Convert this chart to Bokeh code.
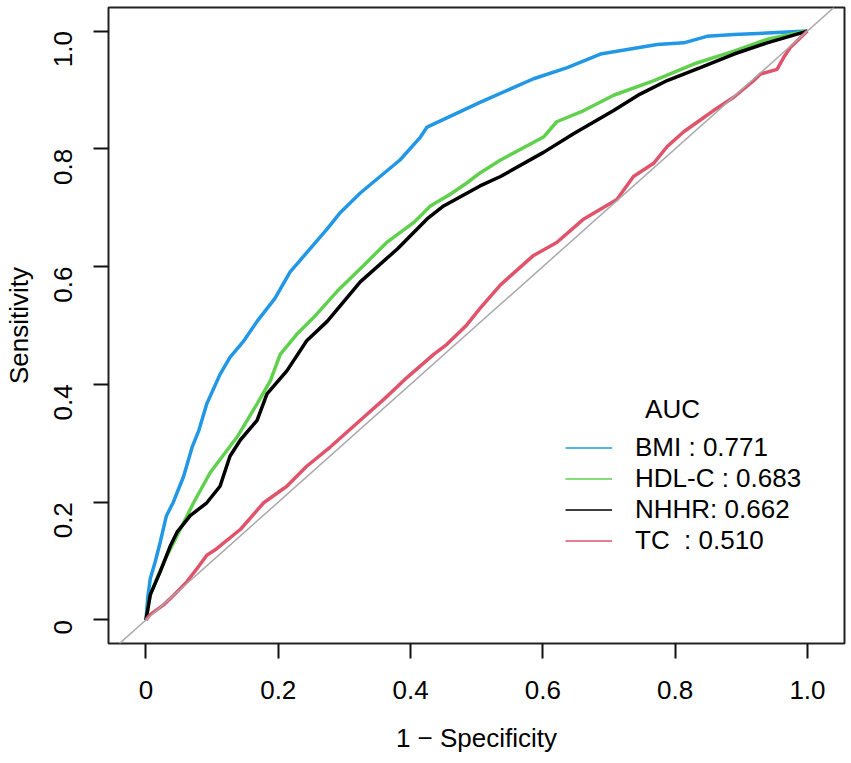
import math
from bokeh.plotting import figure
from bokeh.models import Legend, LegendItem, Label, Slope, Range1d, FixedTicker
from bokeh.embed import file_html
from bokeh.resources import INLINE

# ---- data ----
bmi_x = [0, 0.003, 0.0065, 0.0138, 0.0216, 0.031, 0.041, 0.057, 0.070, 0.080, 0.092, 0.112, 0.127,
         0.148, 0.168, 0.195, 0.218, 0.274, 0.294, 0.324, 0.384, 0.415, 0.425, 0.505, 0.511, 0.586,
         0.637, 0.687, 0.773, 0.813, 0.848, 0.889, 1.0]
bmi_y = [0, 0.040, 0.070, 0.098, 0.132, 0.177, 0.199, 0.244, 0.294, 0.322, 0.367, 0.417, 0.446,
         0.474, 0.507, 0.546, 0.591, 0.664, 0.692, 0.725, 0.781, 0.820, 0.837, 0.879, 0.882, 0.919,
         0.938, 0.961, 0.977, 0.980, 0.991, 0.994, 1.0]

hdl_x = [0, 0.0065, 0.0166, 0.032, 0.052, 0.072, 0.097, 0.138, 0.168, 0.188, 0.203, 0.228, 0.253,
         0.289, 0.329, 0.364, 0.405, 0.430, 0.460, 0.485, 0.505, 0.536, 0.601, 0.621, 0.662, 0.707,
         0.768, 0.828, 0.889, 0.939, 1.0]
hdl_y = [0, 0.0425, 0.0705, 0.110, 0.154, 0.199, 0.250, 0.311, 0.367, 0.406, 0.451, 0.485, 0.513,
         0.558, 0.602, 0.641, 0.675, 0.703, 0.723, 0.742, 0.759, 0.781, 0.820, 0.846, 0.865, 0.891,
         0.916, 0.944, 0.966, 0.986, 1.0]

nhhr_x = [0, 0.0065, 0.0216, 0.037, 0.047, 0.067, 0.092, 0.112, 0.127, 0.143, 0.168, 0.183, 0.213,
          0.243, 0.274, 0.324, 0.380, 0.425, 0.450, 0.505, 0.536, 0.601, 0.647, 0.707, 0.747, 0.788,
          0.838, 0.889, 0.939, 1.0]
nhhr_y = [0, 0.0425, 0.082, 0.126, 0.149, 0.177, 0.199, 0.227, 0.278, 0.306, 0.339, 0.384, 0.423,
          0.474, 0.507, 0.574, 0.630, 0.681, 0.703, 0.737, 0.753, 0.794, 0.826, 0.865, 0.893, 0.916,
          0.938, 0.961, 0.980, 1.0]

tc_x = [0, 0.0065, 0.027, 0.042, 0.062, 0.077, 0.092, 0.107, 0.143, 0.178, 0.213, 0.243, 0.279,
        0.330, 0.360, 0.395, 0.435, 0.455, 0.485, 0.505, 0.536, 0.586, 0.621, 0.662, 0.712, 0.737,
        0.768, 0.788, 0.813, 0.838, 0.858, 0.889, 0.919, 0.929, 0.954, 0.964, 0.974, 1.0]
tc_y = [0, 0.009, 0.026, 0.042, 0.065, 0.087, 0.110, 0.121, 0.154, 0.199, 0.227, 0.261, 0.294,
        0.345, 0.375, 0.412, 0.451, 0.468, 0.501, 0.529, 0.569, 0.619, 0.641, 0.681, 0.714, 0.753,
        0.776, 0.804, 0.829, 0.849, 0.865, 0.888, 0.916, 0.927, 0.935, 0.955, 0.972, 1.0]

legend_labels = ["BMI : 0.771", "HDL-C : 0.683", "NHHR: 0.662", "TC  : 0.510"]
colors = ["#2297E6", "#61D04F", "#000000", "#DF536B"]
tick_vals = [0, 0.2, 0.4, 0.6, 0.8, 1.0]
tick_labels = ["0", "0.2", "0.4", "0.6", "0.8", "1.0"]

FONT = "Liberation Sans"
FS = "26px"

p = figure(width=848, height=755, output_backend="svg", toolbar_location=None,
           x_range=Range1d(-0.0566, 1.056), y_range=Range1d(-0.04, 1.04),
           min_border_left=108, min_border_right=4, min_border_top=7, min_border_bottom=106,
           x_axis_label="1 \u2212 Specificity", y_axis_label="Sensitivity")

p.background_fill_color = "white"
p.border_fill_color = "white"
p.outline_line_color = "#222222"
p.outline_line_width = 2
p.xgrid.visible = False
p.ygrid.visible = False

for ax in (p.xaxis[0], p.yaxis[0]):
    ax.ticker = FixedTicker(ticks=tick_vals)
    ax.major_label_overrides = {v: s for v, s in zip(tick_vals, tick_labels)}
    ax.axis_line_color = None
    ax.major_tick_in = 0
    ax.major_tick_out = 15
    ax.major_tick_line_width = 2
    ax.major_tick_line_color = "#111111"
    ax.minor_tick_line_color = None
    ax.major_label_text_font = FONT
    ax.major_label_text_font_size = FS
    ax.major_label_text_color = "black"
    ax.axis_label_text_font = FONT
    ax.axis_label_text_font_size = FS
    ax.axis_label_text_font_style = "normal"
    ax.axis_label_text_color = "black"

p.xaxis[0].major_label_standoff = 22
p.xaxis[0].axis_label_standoff = 21
p.yaxis[0].major_label_orientation = math.pi / 2
p.yaxis[0].major_label_standoff = 30
p.yaxis[0].axis_label_standoff = 9

p.add_layout(Slope(gradient=1, y_intercept=0, line_color="#A9A9A9", line_width=1.5))

series = [(bmi_x, bmi_y), (hdl_x, hdl_y), (nhhr_x, nhhr_y), (tc_x, tc_y)]
for (xs, ys), c in zip(series, colors):
    p.line(xs, ys, line_color=c, line_width=3.5)

# thin legend glyphs (renderers that draw nothing in the plot area)
items = []
for lab, c in zip(legend_labels, colors):
    r = p.line([math.nan], [math.nan], line_color=c, line_width=1.5)
    items.append(LegendItem(label=lab, renderers=[r]))

legend = Legend(items=items, location=(457, 87), padding=0, margin=0, spacing=0,
                glyph_width=47, glyph_height=31, label_height=31, label_standoff=23,
                label_text_font=FONT, label_text_font_size=FS, label_text_color="black",
                background_fill_alpha=0, border_line_color=None)
p.add_layout(legend)

p.add_layout(Label(x=0.796, y=0.358, text="AUC", text_align="center", text_baseline="middle",
                   text_font=FONT, text_font_size=FS, text_color="black"))

open("out.html", "w").write(file_html(p, INLINE))
